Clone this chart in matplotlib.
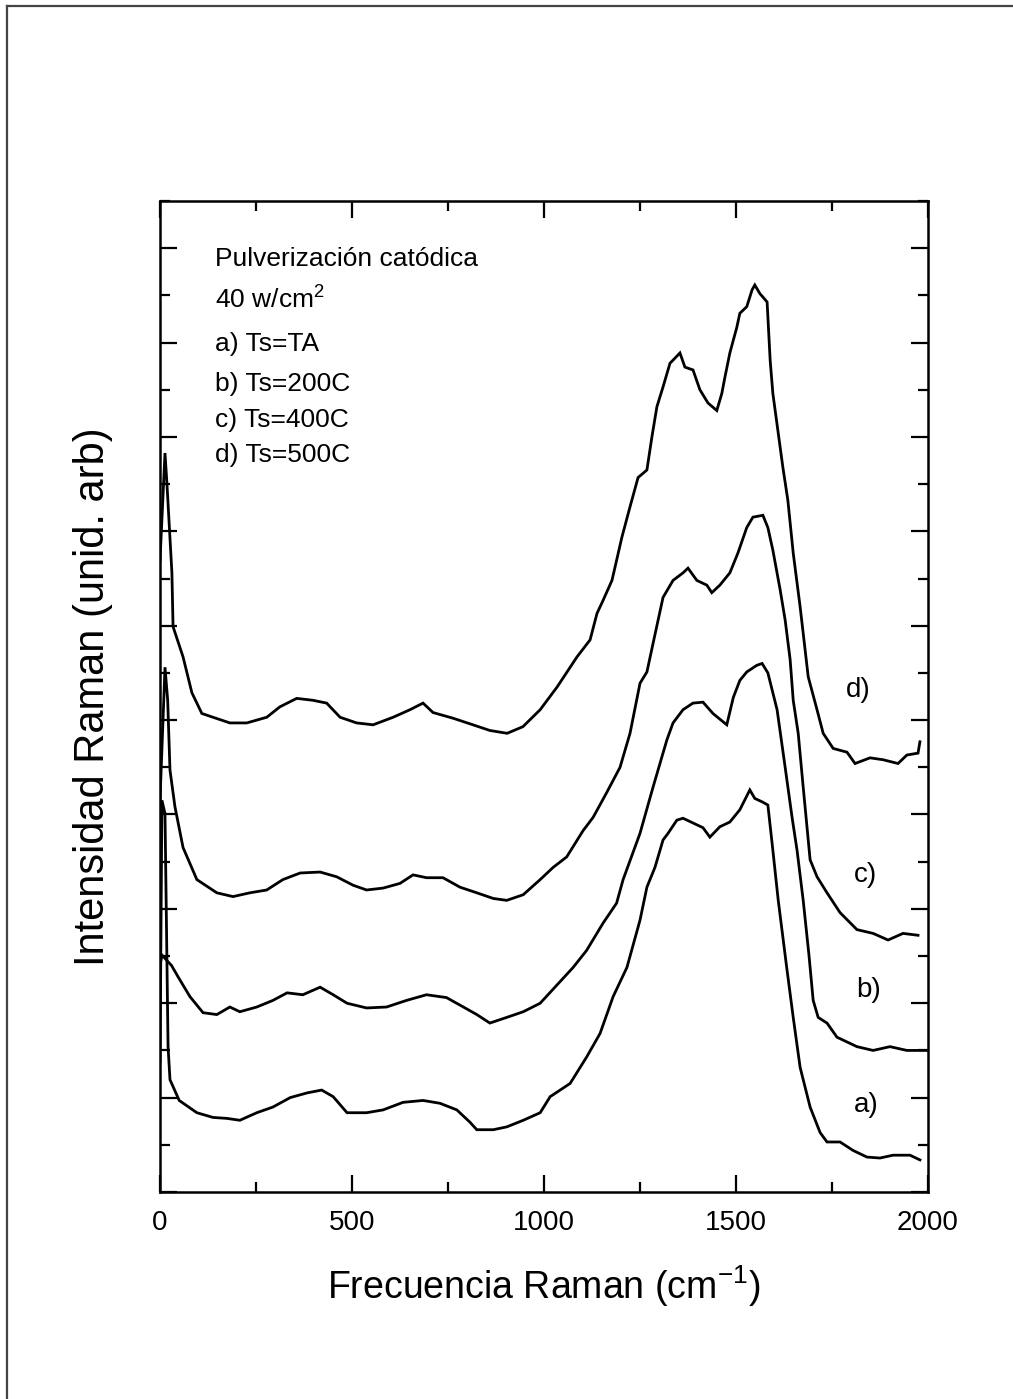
import matplotlib
matplotlib.use("Agg")
import matplotlib.pyplot as plt
from matplotlib.ticker import MultipleLocator
from matplotlib.lines import Line2D

plt.rcParams['font.family'] = ['Liberation Sans', 'DejaVu Sans']
plt.rcParams['mathtext.default'] = 'regular'

# ---- data (Raman shift in cm^-1, intensity in arb. units) ----
a_x = [0, 5, 13, 21, 26, 50, 96, 138, 174, 208, 252, 294, 339, 383, 421, 451, 487, 538, 581, 633, 685,
       729, 773, 807, 825, 868, 903, 946, 990, 1016, 1042, 1068, 1111, 1146, 1180, 1216, 1250, 1268,
       1289, 1310, 1323, 1346, 1362, 1388, 1414, 1432, 1458, 1484, 1510, 1536, 1549, 1570, 1583, 1596,
       1610, 1632, 1649, 1667, 1693, 1719, 1737, 1771, 1805, 1841, 1875, 1909, 1953, 1979]
a_y = [1.38, 4.15, 4.01, 1.54, 1.19, 0.97, 0.84, 0.79, 0.78, 0.76, 0.84, 0.90, 1.00, 1.05, 1.08, 1.01,
       0.84, 0.84, 0.87, 0.95, 0.97, 0.94, 0.87, 0.74, 0.66, 0.66, 0.69, 0.76, 0.84, 1.01, 1.08, 1.15,
       1.43, 1.68, 2.07, 2.38, 2.88, 3.23, 3.44, 3.73, 3.80, 3.94, 3.96, 3.91, 3.86, 3.76, 3.87, 3.92,
       4.05, 4.26, 4.17, 4.13, 4.10, 3.62, 3.09, 2.38, 1.85, 1.32, 0.90, 0.63, 0.53, 0.53, 0.44, 0.37,
       0.36, 0.39, 0.39, 0.34]

b_x = [0, 5, 30, 47, 78, 112, 148, 182, 208, 252, 294, 331, 372, 417, 451, 487, 538, 590, 642, 694,
       746, 790, 825, 859, 903, 946, 990, 1033, 1076, 1111, 1154, 1189, 1206, 1250, 1284, 1320, 1336,
       1362, 1388, 1414, 1440, 1476, 1493, 1510, 1528, 1554, 1568, 1583, 1607, 1628, 1646, 1659, 1675,
       1690, 1701, 1714, 1737, 1763, 1789, 1815, 1857, 1901, 1945, 1997]
b_y = [2.40, 2.51, 2.40, 2.28, 2.07, 1.90, 1.88, 1.96, 1.91, 1.96, 2.03, 2.11, 2.09, 2.17, 2.09, 2.00,
       1.95, 1.96, 2.03, 2.09, 2.06, 1.96, 1.88, 1.79, 1.85, 1.91, 2.00, 2.19, 2.38, 2.56, 2.85, 3.06,
       3.31, 3.80, 4.29, 4.79, 4.97, 5.11, 5.18, 5.19, 5.07, 4.95, 5.24, 5.42, 5.51, 5.58, 5.60, 5.50,
       5.11, 4.50, 3.97, 3.62, 3.09, 2.51, 2.03, 1.85, 1.79, 1.64, 1.59, 1.54, 1.50, 1.54, 1.50, 1.50]

c_x = [0, 13, 20, 26, 39, 60, 96, 148, 190, 234, 278, 320, 365, 417, 460, 503, 538, 581, 625, 659, 694,
       737, 781, 825, 868, 903, 946, 990, 1024, 1059, 1102, 1128, 1163, 1198, 1224, 1250, 1268, 1286,
       1310, 1336, 1362, 1375, 1398, 1424, 1437, 1458, 1484, 1505, 1528, 1544, 1570, 1583, 1596, 1615,
       1628, 1641, 1649, 1662, 1675, 1693, 1711, 1737, 1771, 1815, 1857, 1896, 1935, 1974]
c_y = [4.15, 5.56, 5.21, 4.47, 4.08, 3.65, 3.31, 3.17, 3.13, 3.17, 3.20, 3.31, 3.38, 3.39, 3.34, 3.25,
       3.20, 3.22, 3.27, 3.36, 3.33, 3.33, 3.23, 3.17, 3.11, 3.09, 3.15, 3.31, 3.44, 3.55, 3.83, 3.97,
       4.23, 4.50, 4.86, 5.39, 5.51, 5.85, 6.30, 6.48, 6.56, 6.61, 6.48, 6.43, 6.35, 6.43, 6.56, 6.77,
       7.04, 7.15, 7.17, 7.04, 6.80, 6.38, 6.06, 5.64, 5.21, 4.86, 4.29, 3.52, 3.34, 3.17, 2.96, 2.78,
       2.74, 2.67, 2.74, 2.72]

d_x = [0, 13, 18, 31, 34, 60, 83, 109, 138, 182, 226, 278, 312, 356, 398, 434, 469, 512, 555, 607, 651,
       685, 711, 763, 815, 859, 904, 945, 990, 1034, 1086, 1120, 1138, 1154, 1177, 1203, 1224, 1245,
       1268, 1281, 1294, 1310, 1328, 1354, 1367, 1388, 1406, 1427, 1450, 1463, 1471, 1484, 1502, 1510,
       1528, 1542, 1549, 1562, 1581, 1589, 1596, 1610, 1622, 1635, 1649, 1667, 1675, 1688, 1711, 1727,
       1753, 1789, 1810, 1849, 1883, 1922, 1945, 1974, 1979]
d_y = [6.69, 7.83, 7.51, 6.56, 5.99, 5.67, 5.29, 5.07, 5.03, 4.97, 4.97, 5.03, 5.14, 5.23, 5.21, 5.18,
       5.03, 4.97, 4.95, 5.03, 5.11, 5.18, 5.08, 5.02, 4.95, 4.89, 4.86, 4.93, 5.11, 5.35, 5.67, 5.85,
       6.13, 6.27, 6.48, 6.94, 7.26, 7.57, 7.65, 8.00, 8.32, 8.53, 8.78, 8.89, 8.74, 8.71, 8.50, 8.36,
       8.28, 8.46, 8.63, 8.89, 9.16, 9.31, 9.38, 9.56, 9.61, 9.52, 9.43, 8.81, 8.46, 8.04, 7.68, 7.33,
       6.77, 6.20, 5.92, 5.46, 5.11, 4.86, 4.70, 4.66, 4.54, 4.60, 4.58, 4.54, 4.63, 4.65, 4.77]

curve_labels = ['a)', 'b)', 'c)', 'd)']
label_x = [1839, 1844, 1836, 1818]
label_y = [0.92, 2.14, 3.36, 5.32]

legend_lines = ['Pulverización catódica', '40 w/cm$^{2}$', 'a) Ts=TA', 'b) Ts=200C',
                'c) Ts=400C', 'd) Ts=500C']
legend_y = [9.89, 9.45, 8.99, 8.56, 8.18, 7.81]

xticks = [0, 500, 1000, 1500, 2000]

# ---- figure ----
W, H = 1013, 1399
fig = plt.figure(figsize=(W / 100, H / 100), dpi=100)
ax = fig.add_axes([160 / W, 1 - 1192 / H, (928 - 160) / W, (1192 - 201) / H])

for xs, ys in [(a_x, a_y), (b_x, b_y), (c_x, c_y), (d_x, d_y)]:
    ax.plot(xs, ys, color='black', lw=2.0, solid_joinstyle='miter')

ax.set_xlim(0, 2000)
ax.set_ylim(0, 10.5)
ax.set_xticks(xticks)
ax.set_xticklabels([str(t) for t in xticks])
ax.xaxis.set_minor_locator(MultipleLocator(250))
ax.yaxis.set_major_locator(MultipleLocator(1))
ax.yaxis.set_minor_locator(MultipleLocator(0.5))
ax.tick_params(which='both', direction='in', top=True, right=True, width=1.6, color='black')
ax.tick_params(which='major', length=12)
ax.tick_params(which='minor', length=7)
ax.tick_params(axis='y', which='both', labelleft=False)
ax.tick_params(axis='x', labelsize=20, pad=13)
for s in ax.spines.values():
    s.set_linewidth(1.8)

ax.set_xlabel('Frecuencia Raman (cm$^{-1}$)', fontsize=27, labelpad=20)
ax.set_ylabel('Intensidad Raman (unid. arb)', fontsize=30, labelpad=34)

for lab, lx, ly in zip(curve_labels, label_x, label_y):
    ax.text(lx, ly, lab, fontsize=20, ha='center', va='center')

for line, ly in zip(legend_lines, legend_y):
    ax.text(143, ly, line, fontsize=19, ha='left', va='center')

# page border (scan edges, left and top)
fig.add_artist(Line2D([7 / W, 7 / W], [0, 1 - 6 / H], transform=fig.transFigure,
                      color='#444444', lw=1.6))
fig.add_artist(Line2D([7 / W, 1], [1 - 6 / H, 1 - 6 / H], transform=fig.transFigure,
                      color='#444444', lw=1.6))

fig.savefig('out.png', dpi=100, facecolor='white')
